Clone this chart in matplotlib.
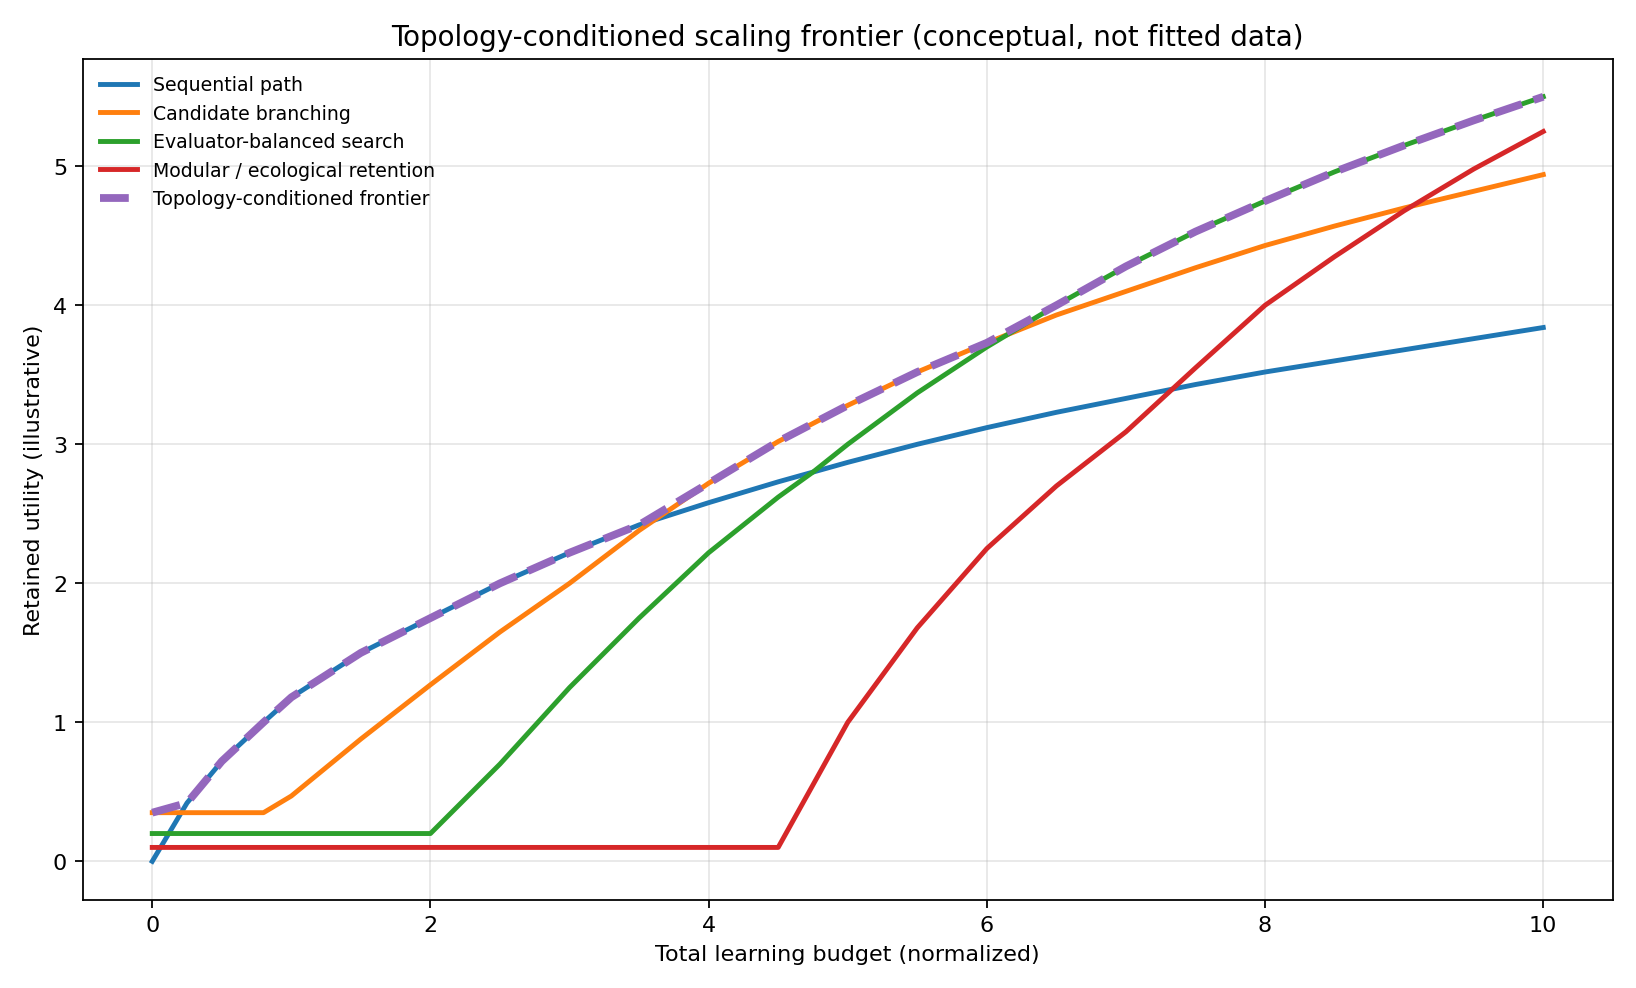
import numpy as np
import matplotlib
matplotlib.use("Agg")
import matplotlib.pyplot as plt

# budget grid
budget = [0, 0.25, 0.5, 0.8, 1, 1.5, 2, 2.5, 3, 3.5, 4, 4.5, 4.75, 5,
          5.5, 6, 6.5, 7, 7.5, 8, 8.5, 9, 9.5, 10]

sequential = [0, 0.42, 0.72, 1.0, 1.18, 1.5, 1.75, 2.0, 2.22, 2.42, 2.58, 2.73,
              2.8, 2.87, 3.0, 3.12, 3.23, 3.33, 3.43, 3.52, 3.6, 3.68, 3.76, 3.84]
candidate = [0.35, 0.35, 0.35, 0.35, 0.47, 0.88, 1.27, 1.65, 2.0, 2.38, 2.72, 3.02,
             3.15, 3.28, 3.52, 3.73, 3.93, 4.1, 4.27, 4.43, 4.57, 4.7, 4.82, 4.94]
evaluator = [0.2, 0.2, 0.2, 0.2, 0.2, 0.2, 0.2, 0.7, 1.25, 1.75, 2.22, 2.62,
             2.8, 3.0, 3.37, 3.7, 4.0, 4.28, 4.53, 4.75, 4.96, 5.15, 5.33, 5.5]
modular = [0.1, 0.1, 0.1, 0.1, 0.1, 0.1, 0.1, 0.1, 0.1, 0.1, 0.1, 0.1,
           0.55, 1.0, 1.68, 2.25, 2.7, 3.09, 3.55, 4.0, 4.35, 4.68, 4.98, 5.25]

frontier = np.maximum.reduce([np.array(sequential), np.array(candidate),
                              np.array(evaluator), np.array(modular)])

fig, ax = plt.subplots(figsize=(10.23, 6.18), dpi=160)
ax.plot(budget, sequential, lw=2.2, label='Sequential path')
ax.plot(budget, candidate, lw=2.2, label='Candidate branching')
ax.plot(budget, evaluator, lw=2.2, label='Evaluator-balanced search')
ax.plot(budget, modular, lw=2.2, label='Modular / ecological retention')
ax.plot(budget, frontier, lw=3.5, ls='--', label='Topology-conditioned frontier')

ax.set_title('Topology-conditioned scaling frontier (conceptual, not fitted data)', fontsize=12.5)
ax.set_xlabel('Total learning budget (normalized)')
ax.set_ylabel('Retained utility (illustrative)')
ax.grid(True, alpha=0.3)
ax.legend(loc='upper left', fontsize=8.5, frameon=False)
plt.tight_layout()
plt.savefig('out.png', dpi=160)
